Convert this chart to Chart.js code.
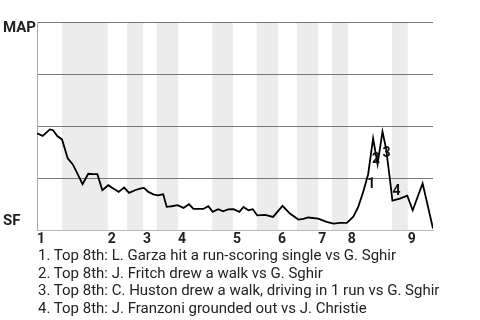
<!DOCTYPE html>
<html>
<head>
<meta charset="utf-8">
<script src="https://cdn.jsdelivr.net/npm/chart.js@4"></script>
<style>
    body { margin: 0; background: #fff; font-family: Roboto, sans-serif; }
    #wrap { position: absolute; left: 0; top: 0; width: 480px; height: 250px; }
    #plays { position: absolute; left: 38px; top: 247px; font-size: 15px; line-height: 17.7px; color: #222; white-space: nowrap; }
</style>
</head>
<body>
<div id="wrap"><canvas id="wpChart"></canvas></div>
<div id="plays"></div>
<script>
// play number (x) and MAP win probability in % (y)
const playX = [0, 1.15, 2.6, 3.2, 4.1, 5.05, 6.2, 7.2, 8.15, 9.2,
    10.35, 11.35, 12.2, 13.2, 14.4, 15.4, 16.5, 17.6, 18.6, 19.8,
    20.8, 21.6, 22.5, 23.5, 24.4, 25.5, 26.2, 27.2, 28.4, 29.6,
    30.7, 31.6, 33.6, 34.6, 35.5, 36.6, 37.6, 38.6, 39.7, 40.9,
    41.7, 42.7, 43.6, 44.5, 46.1, 47.7, 49.6, 51.1, 52.8, 53.8,
    54.8, 56.8, 58.5, 59.9, 61.2, 62.6, 63.9, 64.9, 65.9, 66.9,
    67.9, 68.8, 69.8, 70.5, 71.3, 71.8, 73.3, 74.8, 75.9, 77.9,
    80];
const mapWinPct = [46.5, 45.3, 48.4, 48.1, 45.2, 43.6, 34.5, 31.7, 27.3, 22.1,
    27.1, 26.9, 26.9, 19.2, 21.6, 20.0, 18.4, 20.5, 17.9, 19.2,
    20.0, 20.3, 18.4, 17.2, 16.7, 17.2, 11.2, 11.5, 12.0, 10.7,
    12.5, 10.2, 10.2, 11.5, 8.8, 10.1, 9.1, 10.0, 10.1, 8.8,
    11.2, 9.6, 10.1, 7.1, 7.4, 6.4, 11.7, 8.0, 5.1, 5.4,
    6.1, 5.6, 4.0, 3.2, 3.5, 3.5, 6.5, 11.2, 18.4, 26.9,
    44.1, 31.7, 47.3, 39.4, 24.5, 14.2, 15.2, 16.6, 9.6, 22.5,
    0.8];

const inningStart = [0, 14.3, 21.4, 28.5, 39.6, 48.7, 56.8, 62.8, 74.9];
const bottomStart = [5.05, 18.2, 24.2, 35.4, 44.4, 52.5, 59.6, 71.7];
const inningLabels = ['1', '2', '3', '4', '5', '6', '7', '8', '9'];
const teamTop = 'MAP';
const teamBottom = 'SF';

// key plays: index into the points above, and description
const eventIdx = [59, 61, 62, 65];
const eventText = [
    'Top 8th: L. Garza hit a run-scoring single vs G. Sghir',
    'Top 8th: J. Fritch drew a walk vs G. Sghir',
    'Top 8th: C. Huston drew a walk, driving in 1 run vs G. Sghir',
    'Top 8th: J. Franzoni grounded out vs J. Christie'
];

document.getElementById('plays').innerHTML =
    eventText.map((t, i) => `<div>${i + 1}. ${t}</div>`).join('');

const points = playX.map((x, i) => ({x: x, y: mapWinPct[i]}));

const bands = {
    id: 'bands',
    beforeDraw(chart) {
        const {ctx, chartArea, scales} = chart;
        ctx.save();
        ctx.fillStyle = '#ececec';
        bottomStart.forEach((b, i) => {
            const x0 = scales.x.getPixelForValue(b);
            const x1 = scales.x.getPixelForValue(inningStart[i + 1]);
            ctx.fillRect(x0, chartArea.top, x1 - x0, chartArea.bottom - chartArea.top);
        });
        ctx.restore();
    }
};

const nudge = [[3, 10], [-1.5, -5], [4, 22], [4, -9.5]];

const labels = {
    id: 'labels',
    afterDatasetsDraw(chart) {
        const {ctx, chartArea, scales} = chart;
        ctx.save();
        ctx.fillStyle = '#111';
        ctx.font = 'bold 14px Roboto';
        ctx.textAlign = 'center';
        ctx.textBaseline = 'middle';
        eventIdx.forEach((idx, i) => {
            const px = scales.x.getPixelForValue(playX[idx]) + nudge[i][0];
            const py = scales.y.getPixelForValue(mapWinPct[idx]) + nudge[i][1];
            ctx.fillText(String(i + 1), px, py);
        });
        ctx.fillStyle = '#222';
        ctx.textAlign = 'left';
        ctx.font = 'bold 15px Roboto';
        ctx.fillText(teamTop, 3, chartArea.top + 6.5);
        ctx.fillText(teamBottom, 3, chartArea.bottom - 9);
        ctx.restore();
    }
};

new Chart(document.getElementById('wpChart'), {
    type: 'line',
    data: {
        datasets: [{
            data: points,
            borderColor: '#000',
            borderWidth: 1.8,
            pointRadius: 0,
            tension: 0
        }]
    },
    options: {
        responsive: true,
        maintainAspectRatio: false,
        animation: false,
        layout: {padding: {left: 37, right: 47, top: 22, bottom: 1}},
        plugins: {legend: {display: false}, tooltip: {enabled: false}},
        scales: {
            x: {
                type: 'linear',
                min: 0,
                max: 80,
                afterBuildTicks: (scale) => {
                    scale.ticks = inningStart.map(v => ({value: v}));
                },
                ticks: {
                    autoSkip: false,
                    maxRotation: 0,
                    align: 'start',
                    padding: 1,
                    color: '#222',
                    font: {family: 'Roboto', size: 14, weight: 'bold'},
                    callback: (v, i) => inningLabels[i]
                },
                grid: {display: false, drawTicks: false},
                border: {color: '#bbb', width: 1}
            },
            y: {
                min: 0,
                max: 100,
                ticks: {display: false, stepSize: 25},
                grid: {
                    drawTicks: false,
                    color: (c) => c.tick.value === 0 ? 'rgba(0,0,0,0)' : '#777'
                },
                border: {color: '#aaa', width: 1}
            }
        }
    },
    plugins: [bands, labels]
});
</script>
</body>
</html>
